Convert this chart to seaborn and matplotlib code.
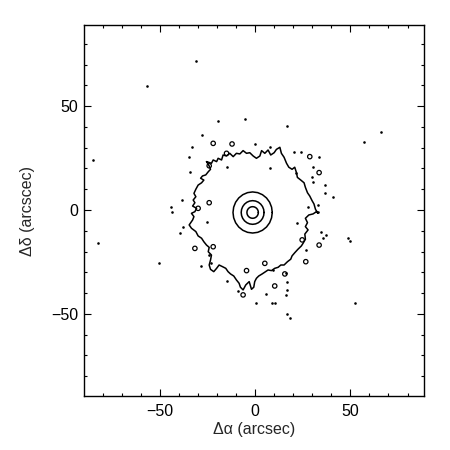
import numpy as np
import pandas as pd
import matplotlib
matplotlib.use("Agg")
import matplotlib.pyplot as plt
import seaborn as sns

# ---- data (arcsec) ----
# outer irregular ring contour, traced clockwise from its upper-left end
ring_x = [-25.5, -22.9, -22.0, -20.2, -19.4, -17.6, -16.8, -15.0, -13.3, -11.5, -9.8, -8.0,
          -6.3, -4.5, -2.8, -1.0, 0.7, 2.5, 3.4, 5.1, 6.8, 8.2, 10.0, 11.2, 13.0, 13.8,
          15.2, 16.5, 17.7, 19.4, 20.8, 21.7, 22.2, 24.0, 25.7, 26.4, 27.5, 28.7, 29.9,
          30.9, 31.7, 33.0, 32.2, 30.4, 28.2, 26.4, 27.5, 26.4, 27.8, 26.1, 26.4, 25.2,
          24.3, 22.5, 20.8, 19.4, 18.7, 17.0, 15.2, 13.5, 12.1, 10.3, 8.6, 6.8, 5.5, 3.7,
          1.9, 0.7, -0.2, -0.7, -1.9, -3.1, -4.9, -6.3, -7.7, -8.4, -9.8, -11.2, -12.9,
          -14.2, -15.4, -17.1, -18.9, -20.2, -21.7, -23.4, -24.1, -23.4, -22.9, -24.6,
          -24.1, -25.5, -26.9, -28.1, -29.9, -31.1, -33.4, -34.6, -32.8, -32.1, -33.4,
          -31.6, -30.7, -32.8, -31.6, -32.5, -31.1, -32.1, -31.1, -29.9, -28.1, -26.9,
          -28.6, -27.6, -25.9, -24.6, -23.4, -24.1, -25.5]
ring_y = [23.3, 22.5, 24.1, 23.3, 24.9, 24.1, 26.5, 26.0, 27.3, 25.7, 27.3, 27.0,
          28.6, 27.3, 27.6, 26.0, 24.9, 26.0, 28.6, 27.3, 28.9, 26.5, 27.6, 29.2, 30.2, 27.3,
          25.4, 22.5, 20.6, 19.6, 20.6, 18.0, 15.7, 14.4, 13.1, 10.9, 8.3, 6.7, 4.5,
          2.9, 0.3, -1.6, -0.8, -1.9, -2.4, -4.0, -6.1, -8.0, -9.6, -11.6, -14.1, -16.0,
          -17.3, -18.9, -20.6, -22.1, -23.7, -24.9, -26.5, -26.5, -27.6, -28.1, -29.2, -28.9, -29.7, -30.8,
          -31.8, -32.9, -34.5, -37.2, -38.2, -34.5, -36.1, -38.5, -37.2, -35.3, -33.7, -31.8, -30.8,
          -29.7, -28.1, -27.3, -26.5, -28.1, -29.7, -28.6, -26.5, -24.1, -21.7, -20.1,
          -18.0, -16.9, -15.3, -13.6, -12.5, -10.4, -8.8, -7.2, -4.8, -3.2, -1.6,
          -0.8, 0.8, 1.9, 3.5, 4.8, 6.4, 8.0, 10.0, 12.0, 13.1, 14.4,
          15.3, 16.4, 16.9, 18.4, 19.6, 21.2, 23.3]

# central core contours
core_center = (-1.3, -1.2)
core_rx = [3.0, 6.0, 10.3]
core_ry = [2.8, 5.7, 9.9]

# isolated specks
dot_x = [-31.1, -56.8, -85.3, -82.3, -50.7, -19.4, -5.4, 16.8, 65.9, 57.2, 48.8, 49.6,
         52.6, 0.3, 9.1, 10.3, 16.8, 18.5, -43.9, -43.4, -28.1, -32.9, -34.3, -34.6,
         -38.6, -39.5, -38.1, -28.5, -14.5, -8.9, 5.9, 16.8, 16.8, 16.4, 16.1, 26.9,
         34.8, 37.4, 35.7, 33.0, 33.0, 36.5, 40.9, 36.5, 30.4, 30.1, 33.6, 30.4,
         24.3, 20.3, 21.3, 7.7, -0.2, 7.7, -14.5, -25.5, 9.4, 22.2, 27.8, -24.1, -23.3]
dot_y = [71.7, 59.9, 24.1, -16.1, -25.4, 43.0, 43.7, 40.4, 37.4, 32.9, -13.6, -15.0,
         -44.6, -44.6, -44.6, -44.6, -50.1, -52.2, 1.6, -0.8, 36.1, 30.5, 18.5, 25.7,
         4.8, -11.2, -8.0, -27.0, -34.0, -39.0, -40.4, -34.5, -38.5, -40.9, -30.5, -19.3,
         -10.4, -12.0, -13.6, 2.4, -0.8, 8.0, 6.4, 12.0, 13.6, 16.1, 25.7, 20.9,
         28.1, 28.1, 17.7, 20.1, 31.6, 30.5, 20.9, -5.6, -28.9, -6.1, 1.6, -21.7, -25.7]

# small closed contour loops
loop_x = [-12.1, -22.0, -15.0, -24.1, -29.9, -31.6, -22.0, -6.3, -4.5, 5.1, 15.6,
          26.6, 33.6, 24.7, 33.6, 28.7, 10.3, -24.1]
loop_y = [31.8, 32.1, 27.3, 3.5, 0.8, -18.5, -17.7, -40.9, -29.2, -25.7, -30.8,
          -24.9, -16.9, -14.4, 18.0, 25.7, -36.6, 21.3]

xlim = (-89.8, 88.6)
ylim = (-89.6, 89.1)

# ---- style ----
sns.set_theme(style="ticks")
plt.rcParams["font.family"] = ["Liberation Sans", "DejaVu Sans"]
plt.rcParams["axes.linewidth"] = 1.0

fig = plt.figure(figsize=(4.5, 4.5), dpi=100)
ax = fig.add_axes([0.1867, 0.12, 0.7553, 0.8244])

# ring
ring_df = pd.DataFrame({"x": ring_x, "y": ring_y})
sns.lineplot(data=ring_df, x="x", y="y", sort=False, estimator=None,
             color="black", linewidth=1.1, ax=ax)

# core contours
theta = np.linspace(0, 2 * np.pi, 25)
rows = []
for lev, (rx, ry) in enumerate(zip(core_rx, core_ry)):
    for t in theta:
        rows.append({"x": core_center[0] + rx * np.cos(t),
                     "y": core_center[1] + ry * np.sin(t), "level": lev})
core_df = pd.DataFrame(rows)
sns.lineplot(data=core_df, x="x", y="y", units="level", sort=False, estimator=None,
             color="black", linewidth=1.1, ax=ax)

# specks and small loops
sns.scatterplot(x=dot_x, y=dot_y, s=3.5, color="black", linewidth=0, marker="o", ax=ax)
sns.scatterplot(x=loop_x, y=loop_y, s=10, facecolor="none", edgecolor="black",
                linewidth=0.9, marker="o", ax=ax)

ax.set_xlim(*xlim)
ax.set_ylim(*ylim)
ax.set_xticks([-50, 0, 50])
ax.set_yticks([-50, 0, 50])
ax.set_xticks(np.arange(-80, 90, 10), minor=True)
ax.set_yticks(np.arange(-80, 90, 10), minor=True)
ax.tick_params(which="both", direction="in", top=True, right=True, colors="black",
               labelsize=11.5)
ax.tick_params(which="major", length=5, width=0.8)
ax.tick_params(which="minor", length=2.5, width=0.8)
ax.tick_params(axis="x", which="major", pad=6)
ax.tick_params(axis="y", which="major", pad=4)
for s in ax.spines.values():
    s.set_color("black")

ax.set_xlabel("Δα (arcsec)", fontsize=11.5, labelpad=2)
ax.set_ylabel("Δδ (arcscec)", fontsize=11.5, labelpad=12)

fig.savefig("out.png", dpi=100, facecolor="white")
